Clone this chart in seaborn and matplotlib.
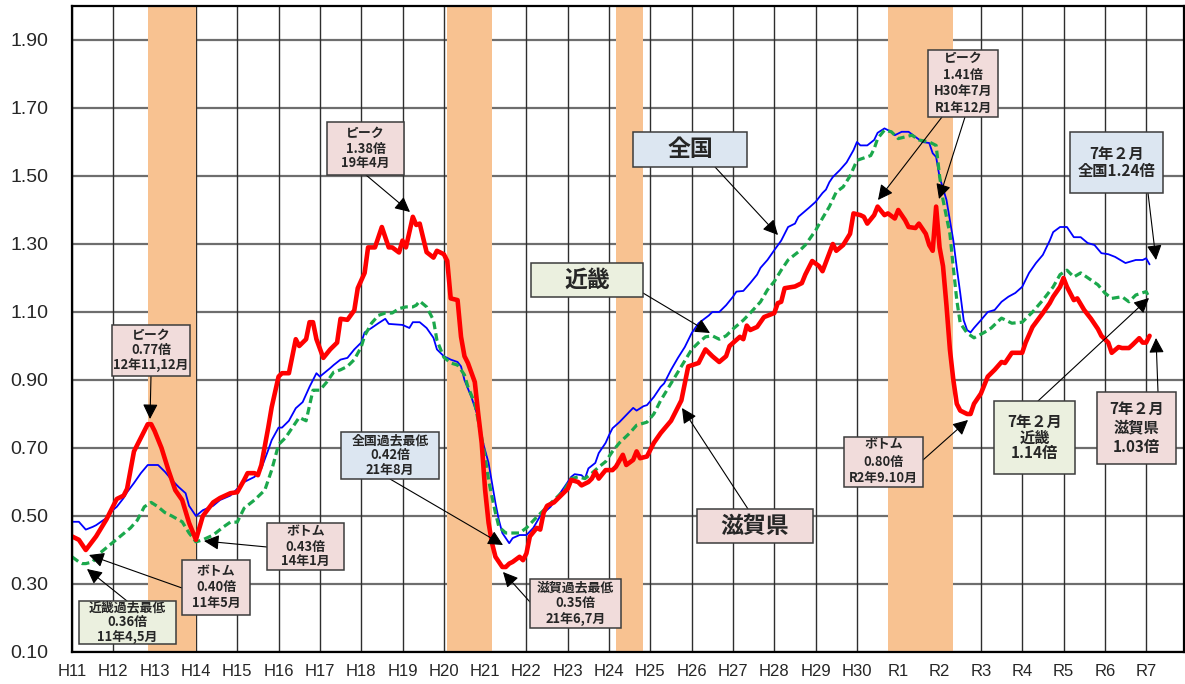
import numpy as np
import pandas as pd
import matplotlib
matplotlib.use("Agg")
import matplotlib.pyplot as plt
import matplotlib.transforms as mtransforms
from matplotlib.patches import Rectangle
import seaborn as sns

# ---------------- data (month index: 0 = H11年1月) ----------------
shiga_month = [0, 2, 4, 7, 10, 12, 13, 15, 16, 18, 20, 22, 23, 24, 26, 28, 30, 32, 34, 36,
               38, 41, 43, 46, 48, 50, 51, 53, 54, 55, 57, 58, 60, 61, 63, 65, 66, 68, 69, 70,
               71, 73, 75, 77, 78, 80, 82, 83, 85, 86, 88, 89, 90, 92, 93, 95, 96, 97, 99, 100,
               101, 103, 105, 106, 108, 109, 110, 112, 113, 114, 115, 117, 118, 119, 120, 121, 122, 123, 125, 126,
               127, 128, 130, 131, 132, 133, 135, 136, 137, 138, 140, 142, 144, 145, 147, 148, 150, 151, 152, 153,
               155, 157, 158, 160, 161, 163, 164, 165, 167, 169, 171, 174, 177, 179, 182, 184, 186, 188, 190, 191,
               194, 195, 196, 197, 199, 201, 204, 205, 206, 207, 210, 212, 213, 215, 217, 218, 220, 221, 222, 224,
               226, 227, 229, 230, 231, 233, 234, 236, 237, 239, 240, 242, 243, 245, 246, 248, 249, 250, 251, 252,
               253, 254, 255, 256, 257, 258, 260, 261, 262, 264, 266, 268, 270, 271, 273, 276, 277, 279, 282, 284,
               285, 287, 288, 289, 291, 292, 294, 296, 298, 299, 301, 302, 304, 305, 307, 308, 310, 311, 312, 313]
shiga_value = [0.44, 0.43, 0.40, 0.44, 0.49, 0.53, 0.55, 0.56, 0.58, 0.69, 0.73, 0.77, 0.77, 0.75, 0.70, 0.635, 0.576, 0.547, 0.48, 0.43,
               0.50, 0.54, 0.553, 0.567, 0.57, 0.606, 0.626, 0.626, 0.62, 0.65, 0.76, 0.82, 0.91, 0.92, 0.92, 1.02, 1.00, 1.02, 1.07, 1.07,
               1.02, 0.965, 0.99, 1.01, 1.08, 1.077, 1.105, 1.17, 1.215, 1.29, 1.29, 1.32, 1.35, 1.29, 1.29, 1.275, 1.31, 1.29, 1.38, 1.356,
               1.36, 1.276, 1.26, 1.28, 1.27, 1.25, 1.14, 1.135, 1.027, 0.97, 0.95, 0.894, 0.80, 0.715, 0.576, 0.48, 0.42, 0.38, 0.35, 0.35,
               0.36, 0.365, 0.38, 0.37, 0.39, 0.44, 0.465, 0.46, 0.51, 0.53, 0.54, 0.56, 0.58, 0.606, 0.60, 0.59, 0.60, 0.61, 0.63, 0.61,
               0.635, 0.635, 0.645, 0.68, 0.65, 0.665, 0.69, 0.67, 0.675, 0.715, 0.744, 0.78, 0.84, 0.94, 0.95, 0.99, 0.97, 0.953, 0.97, 1.00,
               1.027, 1.02, 1.06, 1.047, 1.056, 1.085, 1.097, 1.126, 1.13, 1.17, 1.175, 1.185, 1.21, 1.25, 1.235, 1.22, 1.273, 1.30, 1.28, 1.297,
               1.33, 1.39, 1.385, 1.38, 1.36, 1.385, 1.41, 1.385, 1.39, 1.375, 1.40, 1.37, 1.35, 1.347, 1.36, 1.33, 1.297, 1.28, 1.41, 1.29,
               1.235, 1.12, 0.99, 0.90, 0.83, 0.81, 0.80, 0.80, 0.83, 0.86, 0.91, 0.93, 0.953, 0.95, 0.98, 0.98, 1.01, 1.056, 1.097, 1.126,
               1.145, 1.174, 1.20, 1.174, 1.135, 1.14, 1.106, 1.08, 1.05, 1.03, 1.01, 0.98, 0.997, 0.994, 0.994, 1.003, 1.023, 1.01, 1.01, 1.03]

zenkoku_month = [0, 2, 4, 6, 7, 10, 11, 13, 15, 16, 18, 20, 22, 25, 27, 29, 31, 33, 34, 36,
                 38, 41, 43, 46, 47, 50, 53, 55, 57, 58, 60, 61, 63, 65, 67, 69, 71, 72, 75, 76,
                 78, 80, 82, 84, 85, 87, 89, 91, 92, 96, 98, 99, 101, 103, 105, 106, 108, 110, 112, 113,
                 114, 116, 118, 119, 121, 122, 123, 124, 125, 126, 127, 128, 130, 132, 134, 136, 139, 141, 143, 145,
                 146, 148, 149, 150, 152, 153, 155, 156, 157, 159, 161, 163, 164, 166, 167, 169, 171, 172, 174, 176,
                 178, 180, 182, 185, 186, 188, 190, 192, 193, 195, 197, 199, 200, 202, 204, 206, 208, 210, 211, 214,
                 216, 218, 219, 220, 221, 223, 225, 227, 228, 229, 231, 233, 234, 236, 238, 239, 241, 243, 245, 247,
                 249, 250, 251, 252, 254, 255, 256, 257, 258, 259, 260, 261, 262, 264, 266, 268, 270, 272, 274, 276,
                 278, 280, 282, 284, 285, 287, 289, 291, 293, 295, 297, 299, 301, 303, 306, 309, 311, 312, 313]
zenkoku_value = [0.483, 0.483, 0.46, 0.468, 0.473, 0.494, 0.51, 0.527, 0.553, 0.57, 0.597, 0.626, 0.65, 0.65, 0.63, 0.606, 0.585, 0.567, 0.53, 0.50,
                 0.517, 0.53, 0.547, 0.56, 0.57, 0.60, 0.615, 0.64, 0.694, 0.723, 0.76, 0.76, 0.78, 0.817, 0.835, 0.88, 0.92, 0.91, 0.935, 0.944,
                 0.96, 0.965, 0.99, 1.01, 1.04, 1.053, 1.067, 1.08, 1.065, 1.062, 1.053, 1.07, 1.07, 1.053, 1.024, 0.99, 0.97, 0.96, 0.953, 0.94,
                 0.90, 0.85, 0.79, 0.73, 0.656, 0.597, 0.538, 0.488, 0.45, 0.435, 0.42, 0.435, 0.444, 0.444, 0.465, 0.50, 0.527, 0.556, 0.585, 0.615,
                 0.623, 0.62, 0.61, 0.64, 0.656, 0.685, 0.715, 0.738, 0.758, 0.776, 0.797, 0.818, 0.81, 0.823, 0.826, 0.85, 0.88, 0.89, 0.93, 0.965,
                 0.997, 1.038, 1.067, 1.09, 1.10, 1.10, 1.12, 1.145, 1.16, 1.162, 1.185, 1.21, 1.23, 1.253, 1.282, 1.31, 1.35, 1.36, 1.38, 1.406,
                 1.424, 1.45, 1.46, 1.482, 1.497, 1.517, 1.54, 1.576, 1.60, 1.59, 1.59, 1.606, 1.627, 1.64, 1.63, 1.62, 1.63, 1.63, 1.615, 1.60,
                 1.597, 1.567, 1.556, 1.497, 1.43, 1.37, 1.31, 1.23, 1.156, 1.076, 1.047, 1.04, 1.053, 1.076, 1.10, 1.106, 1.13, 1.145, 1.156, 1.174,
                 1.215, 1.244, 1.268, 1.31, 1.335, 1.35, 1.35, 1.32, 1.32, 1.303, 1.297, 1.273, 1.27, 1.262, 1.244, 1.253, 1.253, 1.258, 1.24]

kinki_month = [0, 2, 3, 4, 6, 8, 11, 14, 17, 19, 21, 23, 25, 27, 29, 32, 34, 36, 38, 41,
               44, 46, 48, 50, 53, 56, 58, 60, 62, 64, 66, 68, 70, 72, 74, 76, 78, 80, 82, 84,
               85, 87, 89, 91, 93, 95, 97, 99, 100, 101, 103, 105, 106, 108, 110, 112, 113, 114, 115, 117,
               118, 119, 120, 121, 122, 123, 124, 126, 128, 130, 132, 135, 138, 140, 143, 145, 147, 149, 151, 153,
               155, 157, 159, 162, 164, 167, 169, 171, 174, 177, 180, 182, 184, 186, 188, 190, 192, 195, 197, 200,
               202, 204, 206, 208, 211, 213, 216, 218, 220, 222, 224, 226, 228, 230, 232, 233, 234, 236, 238, 240,
               242, 244, 246, 249, 251, 252, 253, 255, 256, 257, 258, 260, 262, 265, 267, 270, 273, 276, 279, 282,
               285, 287, 289, 291, 293, 296, 298, 300, 302, 305, 307, 309, 312, 313]
kinki_value = [0.38, 0.365, 0.36, 0.36, 0.365, 0.39, 0.415, 0.44, 0.465, 0.488, 0.527, 0.54, 0.527, 0.51, 0.50, 0.483, 0.45, 0.424, 0.43, 0.444,
               0.468, 0.482, 0.482, 0.523, 0.547, 0.576, 0.635, 0.71, 0.73, 0.76, 0.79, 0.78, 0.87, 0.87, 0.894, 0.923, 0.93, 0.94, 0.96, 0.997,
               1.03, 1.067, 1.09, 1.097, 1.097, 1.11, 1.115, 1.115, 1.12, 1.132, 1.115, 1.076, 1.017, 0.967, 0.95, 0.944, 0.93, 0.915, 0.88, 0.832,
               0.78, 0.73, 0.674, 0.606, 0.556, 0.509, 0.468, 0.45, 0.45, 0.45, 0.465, 0.497, 0.527, 0.547, 0.576, 0.61, 0.615, 0.61, 0.626, 0.644,
               0.66, 0.69, 0.715, 0.744, 0.767, 0.776, 0.80, 0.84, 0.89, 0.94, 0.99, 1.01, 1.027, 1.03, 1.02, 1.03, 1.05, 1.076, 1.097, 1.13,
               1.165, 1.19, 1.223, 1.253, 1.277, 1.297, 1.34, 1.376, 1.41, 1.453, 1.468, 1.50, 1.546, 1.553, 1.56, 1.58, 1.61, 1.635, 1.63, 1.61,
               1.615, 1.62, 1.606, 1.60, 1.59, 1.50, 1.43, 1.33, 1.23, 1.135, 1.067, 1.038, 1.024, 1.04, 1.053, 1.082, 1.067, 1.07, 1.10, 1.135,
               1.174, 1.21, 1.223, 1.203, 1.215, 1.194, 1.18, 1.156, 1.14, 1.145, 1.13, 1.15, 1.16, 1.14]

tick_labels = ["H11", "H12", "H13", "H14", "H15", "H16", "H17", "H18", "H19", "H20",
               "H21", "H22", "H23", "H24", "H25", "H26", "H27", "H28", "H29", "H30",
               "R1", "R2", "R3", "R4", "R5", "R6", "R7"]
y_ticks = [0.10, 0.30, 0.50, 0.70, 0.90, 1.10, 1.30, 1.50, 1.70, 1.90]
recession_start = [22, 109, 158, 237]
recession_end = [36, 122, 166, 256]

# ---------------- figure ----------------
sns.set_style("white")
plt.rcParams["font.family"] = ["Liberation Sans", "Noto Sans CJK JP", "DejaVu Sans"]

W, H = 1185, 684
fig = plt.figure(figsize=(W / 100, H / 100), dpi=100)
ax = fig.add_axes([72 / W, 1 - 652 / H, (1184 - 72) / W, (652 - 6) / H])

ax.set_xlim(0, 323)
ax.set_ylim(0.1, 2.0)

# grid
for yv in y_ticks:
    ax.axhline(yv, color="#6e6e6e", lw=1.6, zorder=1)
for i in range(len(tick_labels)):
    ax.axvline(i * 12, color="#2e2e2e", lw=1.0, zorder=1)

# recessions
for s, e in zip(recession_start, recession_end):
    ax.axvspan(s, e, color="#F8C291", lw=0, zorder=2)

df_z = pd.DataFrame({"month": zenkoku_month, "value": zenkoku_value})
df_k = pd.DataFrame({"month": kinki_month, "value": kinki_value})
df_s = pd.DataFrame({"month": shiga_month, "value": shiga_value})

sns.lineplot(data=df_z, x="month", y="value", ax=ax, color="#0000FF", lw=1.3, zorder=4)
sns.lineplot(data=df_k, x="month", y="value", ax=ax, color="#1BA84C", lw=2.3, zorder=5)
ax.lines[-1].set_dashes((2.4, 1.3))
sns.lineplot(data=df_s, x="month", y="value", ax=ax, color="#FF0000", lw=3.3, zorder=6)

ax.set_xlabel("")
ax.set_ylabel("")
ax.set_xticks([i * 12 for i in range(len(tick_labels))])
ax.set_xticklabels(tick_labels, fontsize=12)
ax.set_yticks(y_ticks)
ax.set_yticklabels([f"{v:.2f}" for v in y_ticks], fontsize=14)
ax.tick_params(axis="y", length=0, pad=17)
ax.tick_params(axis="x", length=0, pad=9)
for sp in ax.spines.values():
    sp.set_color("black")
    sp.set_linewidth(1.6)
    sp.set_zorder(7)

# ---------------- annotations (pixel layout) ----------------
px = mtransforms.Affine2D().scale(1 / W, -1 / H).translate(0, 1) + fig.transFigure
JP = ["Noto Sans CJK JP", "DejaVu Sans"]
PINK, GREEN, BLUE = "#F1DCDB", "#EBF0DF", "#DCE6F1"
SMALL = 9.3


def box(x0, y0, x1, y1, text, fc, fs, ls=1.15):
    r = Rectangle((x0, y0), x1 - x0, y1 - y0, transform=px, facecolor=fc,
                  edgecolor="#3c3c3c", lw=1.1, zorder=20, clip_on=False)
    fig.add_artist(r)
    fig.text((x0 + x1) / 2, (y0 + y1) / 2, text, transform=px, ha="center", va="center",
             fontsize=fs, fontweight="bold", family=JP, linespacing=ls, zorder=21)


def arrow(xs, ys, xt, yt):
    fig.add_artist(matplotlib.patches.FancyArrowPatch(
        (xs, ys), (xt, yt), transform=px, arrowstyle="-|>,head_length=0.7,head_width=0.35",
        mutation_scale=13, color="black", lw=0.8, zorder=19, shrinkA=0, shrinkB=0))


arrow(151, 376, 150, 419)
box(112, 325, 190, 376, "ピーク\n0.77倍\n12年11,12月", PINK, SMALL)

arrow(366, 175, 410, 212)
box(327, 122, 404, 175, "ピーク\n1.38倍\n19年4月", PINK, SMALL)

arrow(182, 588, 89, 555)
box(182, 560, 250, 615, "ボトム\n0.40倍\n11年5月", PINK, SMALL, 1.25)

arrow(267, 547, 204, 541)
box(267, 523, 344, 570, "ボトム\n0.43倍\n14年1月", PINK, SMALL)

arrow(127, 601, 87, 569)
box(79, 601, 176, 644, "近畿過去最低\n0.36倍\n11年4,5月", GREEN, SMALL, 1.1)

arrow(390, 479, 503, 545)
box(341, 432, 439, 479, "全国過去最低\n0.42倍\n21年8月", BLUE, SMALL, 1.1)

arrow(530, 602, 503, 572)
box(530, 579, 621, 628, "滋賀過去最低\n0.35倍\n21年6,7月", PINK, SMALL, 1.2)

arrow(748, 509, 682, 408)
box(697, 509, 813, 543, "滋賀県", PINK, 16.5)

arrow(643, 293, 710, 333)
box(531, 263, 643, 297, "近畿", GREEN, 16.5)

arrow(715, 167, 778, 235)
box(633, 132, 747, 167, "全国", BLUE, 16.5)

arrow(942, 117, 878, 200)
arrow(965, 117, 939, 199)
box(928, 50, 998, 117, "ピーク\n1.41倍\nH30年7月\nR1年12月", PINK, SMALL, 1.3)

arrow(1148, 193, 1156, 260)
box(1070, 132, 1163, 193, "7年２月\n全国1.24倍", BLUE, 11, 1.05)

arrow(923, 460, 968, 420)
box(844, 437, 923, 487, "ボトム\n0.80倍\nR2年9.10月", PINK, SMALL, 1.3)

arrow(1038, 401, 1149, 298)
box(994, 401, 1075, 474, "7年２月\n近畿\n1.14倍", GREEN, 11, 0.95)

arrow(1158, 392, 1156, 338)
box(1097, 392, 1176, 464, "7年２月\n滋賀県\n1.03倍", PINK, 11, 1.25)

fig.savefig("out.png", dpi=100)
